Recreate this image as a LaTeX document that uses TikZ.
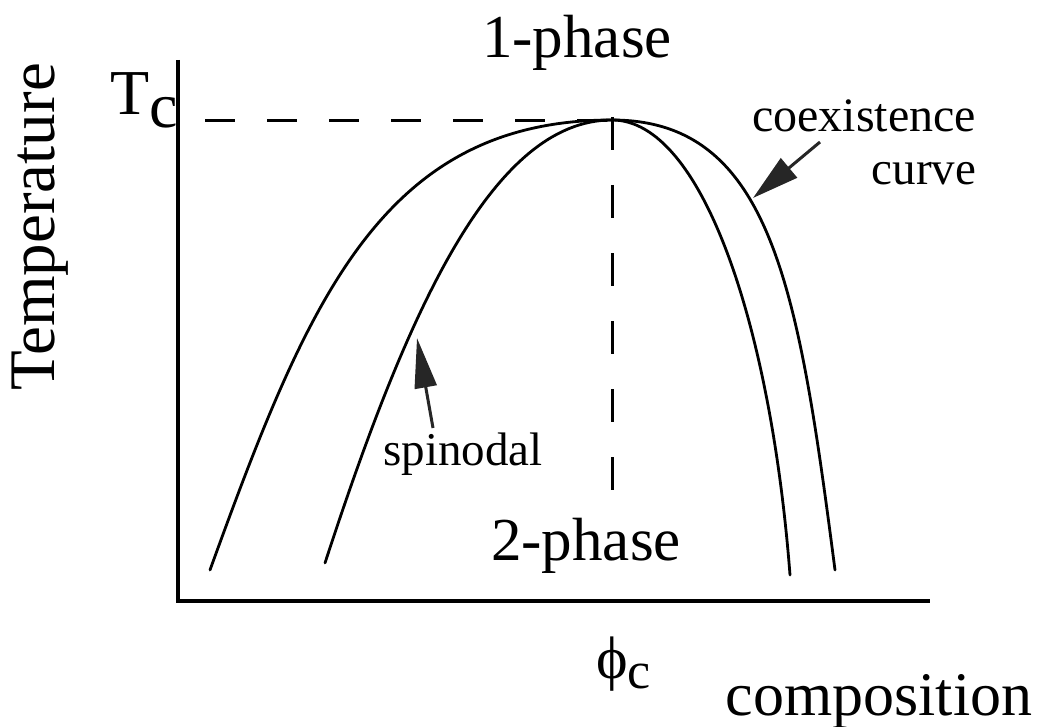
\documentclass[tikz,border=0pt]{standalone}
\usepackage{fontspec}
\setmainfont{Liberation Serif}
\usetikzlibrary{arrows.meta}
\tikzset{
  curveline/.style={line width=2.8pt, line cap=round, line join=round},
  axisline/.style={line width=3.2pt},
  hdash/.style={line width=3pt, dash pattern=on 30pt off 32pt},
  vdash/.style={line width=3pt, dash pattern=on 33pt off 35pt},
  lbl/.style={inner sep=0pt, outer sep=0pt},
  pointer/.style={line width=3pt, black!85, -{Triangle[length=47pt,width=25pt]}},
  pointerb/.style={line width=3pt, black!85, -{Triangle[length=50pt,width=22pt]}}
}
\begin{document}
\begin{tikzpicture}[x=1pt,y=-1pt]
\useasboundingbox (0,0) rectangle (1040,727);
% axes
\coordinate (ytop) at (178,60);
\coordinate (origin) at (178,601);
\coordinate (xend) at (930,601);
\draw[axisline] (ytop) -- (origin) -- (xend);
% critical point and dashed guides
\coordinate (crit) at (612,120);
\coordinate (hstart) at (205,121);
\coordinate (hend) at (612,121);
\coordinate (vstart) at (612,117);
\coordinate (vend) at (612,493);
\draw[hdash] (hstart) -- (hend);
\draw[vdash] (vstart) -- (vend);
% end points of the branches
\coordinate (cl) at (210,570);
\coordinate (cr) at (835,570);
\coordinate (sl) at (325,563);
\coordinate (sr) at (790,575);
% coexistence curve
\draw[curveline] (cl) .. controls (307.9,300) and (382,120) .. (crit)
                      .. controls (772,120) and (798.6,290) .. (cr);
% spinodal
\draw[curveline] (sl) .. controls (406.5,313) and (492,120) .. (crit)
                      .. controls (702,120) and (770.75,325) .. (sr);
% labels
\node[lbl, anchor=base, font=\fontsize{61}{61}\selectfont] (onephase) at (577,58) {1-phase};
\node[lbl, anchor=base, font=\fontsize{61}{61}\selectfont] (twophase) at (586,560) {2-phase};
\node[lbl, anchor=base west, font=\fontsize{64}{64}\selectfont] (tc) at (110,115) {T\raisebox{-13pt}{c}};
\node[lbl, anchor=base, rotate=90, font=\fontsize{65}{65}\selectfont] (temp) at (54,227) {Temperature};
\node[lbl, anchor=base, font=\fontsize{47}{47}\selectfont] (spin) at (463,465) {spinodal};
\node[lbl, anchor=base, font=\fontsize{48}{48}\selectfont] (coex) at (864,132) {coexistence};
\node[lbl, anchor=base east, font=\fontsize{47}{47}\selectfont] (curv) at (976,185) {curve};
\node[lbl, anchor=base west, font=\fontsize{60}{60}\selectfont] (phic) at (596,678) {ϕ\raisebox{-10pt}{\fontsize{52}{52}\selectfont c}};
\node[lbl, anchor=base, font=\fontsize{62}{62}\selectfont] (comp) at (879,715) {composition};
% pointers
\coordinate (ctail) at (820,142);
\coordinate (ctip) at (753,198);
\coordinate (stail) at (433,428);
\coordinate (stip) at (417,338);
\draw[pointer] (ctail) -- (ctip);
\draw[pointerb] (stail) -- (stip);
\end{tikzpicture}
\end{document}
